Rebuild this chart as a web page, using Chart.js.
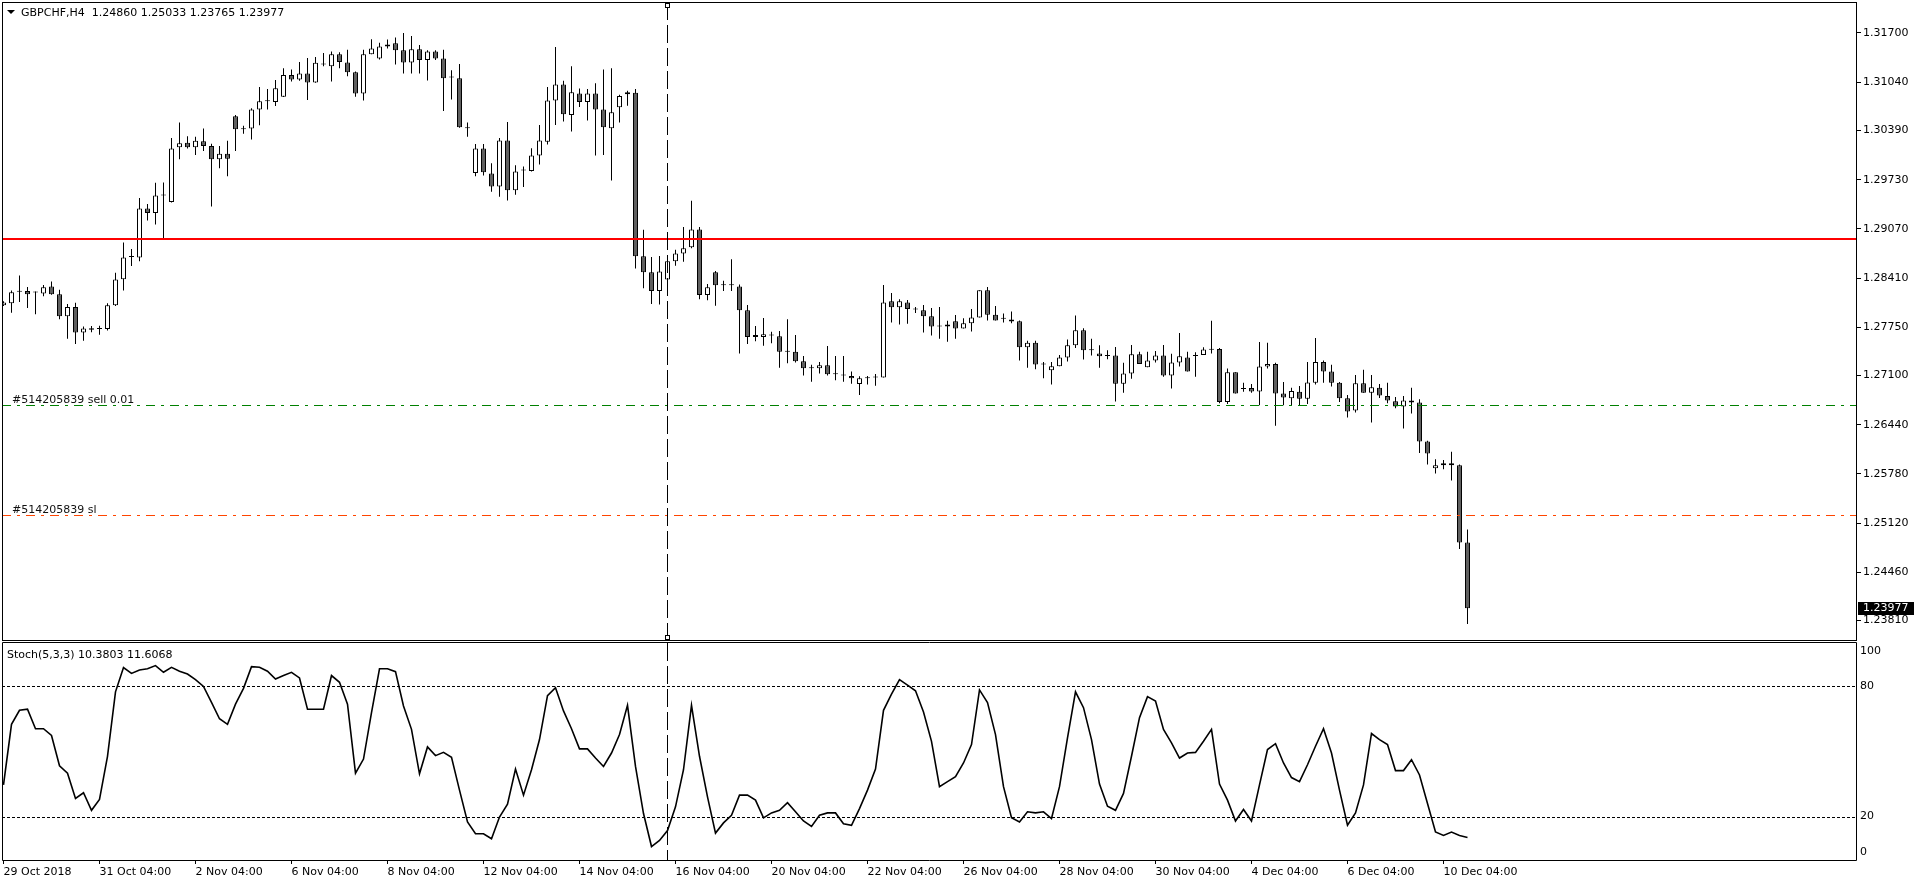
<!DOCTYPE html>
<html>
<head>
<meta charset="utf-8">
<script src="https://cdn.jsdelivr.net/npm/chart.js@4/dist/chart.umd.min.js"></script>
<style>
html, body { margin: 0; padding: 0; background: #fff; overflow: hidden; }
#main { position: absolute; left: 0; top: 0; }
#stoch { position: absolute; left: 0; top: 642px; }
</style>
</head>
<body>
<canvas id="main" width="1916" height="642"></canvas>
<canvas id="stoch" width="1916" height="242"></canvas>
<script>
// GBPCHF H4, one entry per bar (bar 0 = 29 Oct 2018)
const opens = [1.28044,1.28071,1.28225,1.28236,1.28214,1.28203,1.28296,1.28192,1.27896,1.28022,
1.27677,1.27715,1.27726,1.27726,1.28044,1.28395,1.28691,1.28685,1.29343,1.29282,
1.29518,1.29430,1.30165,1.30225,1.30165,1.30247,1.30181,1.30006,1.30077,1.30581,
1.30406,1.30417,1.30674,1.30784,1.30773,1.30844,1.31135,1.31074,1.31157,1.31036,
1.31277,1.31255,1.31414,1.31305,1.31173,1.30888,1.31414,1.31359,1.31518,1.31562,
1.31469,1.31305,1.31480,1.31337,1.31453,1.31359,1.31102,1.31091,1.30422,1.29820,
1.30148,1.29814,1.29639,1.30258,1.29589,1.29852,1.29847,1.30055,1.30241,1.30795,
1.31009,1.30598,1.30888,1.30773,1.30888,1.30674,1.30422,1.30702,1.30877,1.30899,
1.28702,1.28488,1.28236,1.28389,1.28636,1.28740,1.28822,1.29063,1.28181,1.28488,
1.28313,1.28313,1.28296,1.27978,1.27617,1.27617,1.27638,1.27628,1.27419,1.27419,
1.27293,1.27200,1.27200,1.27238,1.27118,1.27101,1.27096,1.26986,1.27063,1.27074,
1.27074,1.28099,1.28017,1.28082,1.27989,1.27978,1.27896,1.27759,1.27759,1.27830,
1.27732,1.27803,1.27880,1.28247,1.27918,1.27863,1.27852,1.27830,1.27480,1.27540,
1.27249,1.27173,1.27227,1.27343,1.27507,1.27710,1.27441,1.27397,1.27364,1.27370,
1.26992,1.27129,1.27386,1.27211,1.27304,1.27370,1.27101,1.27277,1.27343,1.27364,
1.27375,1.27447,1.27458,1.26745,1.27145,1.26921,1.26932,1.26888,1.27222,1.27255,
1.26860,1.26795,1.26882,1.26789,1.27003,1.27282,1.27156,1.27003,1.26795,1.26630,
1.26997,1.26871,1.26937,1.26827,1.26756,1.26685,1.26767,1.26740,1.26214,1.25857,
1.25896,1.25923,1.25896,1.24860];
const highs = [1.28099,1.28241,1.28444,1.28291,1.28230,1.28318,1.28362,1.28252,1.28060,1.28077,
1.27759,1.27765,1.27770,1.28071,1.28482,1.28888,1.28800,1.29485,1.29403,1.29688,
1.29693,1.30291,1.30499,1.30313,1.30307,1.30417,1.30214,1.30181,1.30252,1.30598,
1.30455,1.30691,1.30976,1.30948,1.31069,1.31228,1.31211,1.31310,1.31365,1.31376,
1.31431,1.31453,1.31442,1.31474,1.31184,1.31474,1.31617,1.31568,1.31611,1.31639,
1.31699,1.31661,1.31540,1.31469,1.31469,1.31474,1.31200,1.31283,1.30499,1.30209,
1.30209,1.29951,1.30291,1.30505,1.29924,1.29907,1.30154,1.30466,1.30976,1.31513,
1.31058,1.31255,1.30954,1.30948,1.31025,1.31211,1.31228,1.30872,1.30926,1.30948,
1.29058,1.28691,1.28707,1.28691,1.28789,1.29096,1.29447,1.29096,1.28329,1.28504,
1.28373,1.28663,1.28323,1.28049,1.27765,1.27874,1.27688,1.27699,1.27858,1.27644,
1.27364,1.27244,1.27282,1.27496,1.27364,1.27364,1.27156,1.27090,1.27096,1.27123,
1.28318,1.28208,1.28126,1.28115,1.28022,1.28049,1.28006,1.28022,1.27836,1.27912,
1.27869,1.27995,1.28247,1.28291,1.28033,1.27934,1.27962,1.27841,1.27567,1.27567,
1.27282,1.27282,1.27375,1.27584,1.27907,1.27737,1.27595,1.27507,1.27441,1.27485,
1.27271,1.27512,1.27419,1.27419,1.27430,1.27512,1.27392,1.27671,1.27419,1.27414,
1.27480,1.27836,1.27469,1.27195,1.27145,1.27003,1.26986,1.27551,1.27540,1.27271,
1.27014,1.26937,1.26959,1.27282,1.27606,1.27304,1.27244,1.27014,1.26838,1.27107,
1.27178,1.27107,1.26986,1.27003,1.26811,1.26827,1.26937,1.26784,1.26225,1.25978,
1.25967,1.26077,1.25907,1.25033];
const lows = [1.28033,1.27945,1.28088,1.28006,1.27923,1.28165,1.28186,1.27858,1.27595,1.27523,
1.27567,1.27682,1.27649,1.27704,1.28033,1.28241,1.28570,1.28636,1.29184,1.29129,
1.28937,1.29425,1.30006,1.30148,1.30061,1.30115,1.29370,1.29885,1.29776,1.30115,
1.30346,1.30269,1.30461,1.30674,1.30718,1.30839,1.31047,1.31058,1.30800,1.31031,
1.31255,1.31047,1.31228,1.31118,1.30844,1.30795,1.31414,1.31343,1.31491,1.31277,
1.31157,1.31157,1.31157,1.31063,1.31337,1.30652,1.30806,1.30428,1.30307,1.29776,
1.29787,1.29567,1.29502,1.29452,1.29529,1.29633,1.29841,1.29935,1.30203,1.30466,
1.30510,1.30378,1.30707,1.30526,1.30055,1.30061,1.29721,1.30499,1.30724,1.28537,
1.28274,1.28060,1.28055,1.28280,1.28576,1.28630,1.28811,1.28126,1.28110,1.28039,
1.28236,1.28236,1.27397,1.27523,1.27562,1.27501,1.27534,1.27206,1.27266,1.27277,
1.27101,1.27019,1.27129,1.27101,1.27036,1.27019,1.26992,1.26838,1.26981,1.26964,
1.27074,1.27814,1.27786,1.27797,1.27940,1.27677,1.27638,1.27595,1.27556,1.27595,
1.27732,1.27693,1.27880,1.27841,1.27841,1.27814,1.27803,1.27304,1.27206,1.27184,
1.27063,1.26981,1.27227,1.27288,1.27469,1.27315,1.27370,1.27206,1.27321,1.26751,
1.26871,1.27058,1.27255,1.27211,1.27277,1.27085,1.26926,1.27222,1.27156,1.27085,
1.27375,1.27397,1.26729,1.26718,1.26860,1.26882,1.26871,1.26701,1.27195,1.26427,
1.26701,1.26701,1.26701,1.26718,1.26981,1.27003,1.26953,1.26745,1.26537,1.26603,
1.26871,1.26471,1.26800,1.26729,1.26663,1.26389,1.26592,1.26060,1.25907,1.25786,
1.25841,1.25693,1.24772,1.23765];
const closes = [1.28082,1.28219,1.28225,1.28192,1.28214,1.28285,1.28192,1.27896,1.28022,1.27677,
1.27732,1.27737,1.27726,1.28044,1.28389,1.28685,1.28691,1.29343,1.29282,1.29518,
1.29518,1.30148,1.30220,1.30165,1.30252,1.30181,1.30006,1.30077,1.30011,1.30406,
1.30406,1.30674,1.30784,1.30784,1.30959,1.31135,1.31074,1.31157,1.31036,1.31299,
1.31277,1.31414,1.31310,1.31173,1.30888,1.31414,1.31491,1.31518,1.31546,1.31469,
1.31305,1.31480,1.31337,1.31453,1.31359,1.31091,1.31102,1.30433,1.30422,1.30148,
1.29830,1.29639,1.30258,1.29589,1.29841,1.29852,1.30055,1.30258,1.30795,1.31009,
1.30609,1.30905,1.30773,1.30888,1.30674,1.30433,1.30636,1.30855,1.30905,1.28702,
1.28488,1.28236,1.28499,1.28636,1.28740,1.28811,1.29063,1.28181,1.28285,1.28313,
1.28313,1.28313,1.27978,1.27617,1.27644,1.27655,1.27638,1.27419,1.27419,1.27293,
1.27200,1.27200,1.27238,1.27118,1.27118,1.27101,1.27063,1.27063,1.27063,1.27074,
1.28082,1.28017,1.28099,1.27995,1.27989,1.27896,1.27759,1.27759,1.27786,1.27732,
1.27803,1.27880,1.28247,1.27918,1.27841,1.27863,1.27825,1.27480,1.27540,1.27249,
1.27249,1.27227,1.27343,1.27507,1.27710,1.27441,1.27441,1.27359,1.27364,1.26992,
1.27129,1.27386,1.27255,1.27304,1.27370,1.27101,1.27277,1.27359,1.27156,1.27364,
1.27452,1.27447,1.26745,1.27145,1.26860,1.26921,1.26888,1.27222,1.27255,1.26860,
1.26805,1.26893,1.26789,1.27008,1.27282,1.27156,1.27003,1.26795,1.26619,1.26997,
1.26871,1.26943,1.26833,1.26767,1.26685,1.26767,1.26740,1.26214,1.26055,1.25896,
1.25923,1.25896,1.24860,1.23977];

// Stochastic(5,3,3) main line
const stochMain = [34.6,62.5,69.0,69.5,60.5,60.5,57.4,43.4,40.0,28.4,
31.0,22.9,27.9,47.8,77.5,88.7,86.0,87.6,88.1,89.6,
86.5,88.8,87.0,85.7,83.1,80.0,72.6,65.1,62.5,71.8,
79.1,89.1,88.8,87.0,83.4,85.0,86.5,83.9,69.5,69.5,
69.5,85.0,81.9,71.8,40.0,46.5,67.9,88.1,88.1,86.8,
71.0,60.2,39.7,52.1,48.1,49.6,47.3,32.2,17.5,12.1,
12.1,9.8,19.8,25.7,41.9,29.9,41.6,55.5,75.7,79.4,
68.7,60.5,51.2,51.2,47.0,43.1,49.3,57.8,71.3,43.1,
21.4,6.2,9.0,13.6,24.5,41.6,71.3,47.8,29.1,12.4,
17.1,20.6,29.9,29.9,27.6,19.4,21.7,22.9,26.4,22.2,
18.0,15.5,20.6,21.7,21.7,16.7,16.0,23.7,32.2,41.9,
69.0,76.4,83.1,80.6,78.0,68.2,54.7,33.8,36.1,38.4,
44.7,53.2,78.4,72.6,57.8,33.8,19.5,17.5,22.2,21.7,
22.2,19.1,33.8,56.3,77.5,70.2,55.5,35.0,24.8,22.9,
30.7,47.8,65.6,75.3,73.3,60.2,54.0,47.0,49.3,49.6,
54.7,60.2,35.0,27.6,18.0,23.3,18.0,34.6,50.9,53.6,
44.7,38.0,36.1,43.9,52.4,60.5,49.3,32.2,16.0,21.7,
34.6,58.3,55.5,53.2,41.2,41.2,46.2,39.2,26.0,12.9,
11.3,12.9,11.3,10.4];

const priceTicks = [1.31700,1.31040,1.30390,1.29730,1.29070,1.28410,1.27750,1.27100,1.26440,1.25780,1.25120,1.24460,1.23810];
const stochLevels = [80, 20];
const stochTicks = [100, 80, 20, 0];
const timeBars = [0,12,24,36,48,60,72,84,96,108,120,132,144,156,168,180];
const timeLabels = ['29 Oct 2018','31 Oct 04:00','2 Nov 04:00','6 Nov 04:00','8 Nov 04:00','12 Nov 04:00',
  '14 Nov 04:00','16 Nov 04:00','20 Nov 04:00','22 Nov 04:00','26 Nov 04:00','28 Nov 04:00',
  '30 Nov 04:00','4 Dec 04:00','6 Dec 04:00','10 Dec 04:00'];

const redLevel = 1.28940;
const sellLevel = 1.26701;
const slLevel = 1.25222;
const vlineBar = 83;
const lastPrice = 1.23977;
const titleText = 'GBPCHF,H4  1.24860 1.25033 1.23765 1.23977';
const stochText = 'Stoch(5,3,3) 10.3803 11.6068';
const sellText = '#514205839 sell 0.01';
const slText = '#514205839 sl';

const X_MIN = -0.1875, X_MAX = 231.6875;
const PRICE_MIN = 1.23550, PRICE_MAX = 1.32116;
const FONT = '11px "DejaVu Sans"';

Chart.defaults.font.family = 'DejaVu Sans';
Chart.defaults.font.size = 11;
Chart.defaults.color = '#000';

function hline(ctx, a, y, color, dash){
  ctx.save();
  ctx.strokeStyle = color;
  ctx.lineWidth = 1;
  ctx.setLineDash(dash);
  ctx.beginPath();
  ctx.moveTo(a.left, y);
  ctx.lineTo(a.right, y);
  ctx.stroke();
  ctx.restore();
}

function vdash(ctx, x, y1, y2){
  ctx.save();
  ctx.strokeStyle = '#000';
  ctx.lineWidth = 1;
  ctx.setLineDash([18, 5]);
  ctx.beginPath();
  ctx.moveTo(x, y1);
  ctx.lineTo(x, y2);
  ctx.stroke();
  ctx.restore();
}

function frame(ctx, a){
  ctx.save();
  ctx.strokeStyle = '#000';
  ctx.lineWidth = 1;
  ctx.strokeRect(a.left + 0.5, a.top + 0.5, a.right - a.left - 1, a.bottom - a.top);
  ctx.restore();
}

const mainOverlay = {
  id: 'mainOverlay',
  afterDraw(chart){
    const ctx = chart.ctx, a = chart.chartArea;
    const x = chart.scales.x, y = chart.scales.y;
    ctx.save();
    // red horizontal level
    const ry = Math.round(y.getPixelForValue(redLevel));
    ctx.fillStyle = '#ff0000';
    ctx.fillRect(a.left, ry - 1, a.right - a.left, 2);
    // order lines
    const sy = Math.round(y.getPixelForValue(sellLevel)) + 0.5;
    const ly = Math.round(y.getPixelForValue(slLevel)) + 0.5;
    hline(ctx, a, sy, '#008000', [9, 6, 3, 6]);
    hline(ctx, a, ly, '#ff4500', [9, 6, 3, 6]);
    ctx.font = FONT;
    ctx.fillStyle = '#111';
    ctx.textBaseline = 'alphabetic';
    ctx.textAlign = 'left';
    ctx.fillText(sellText, 12, sy - 3);
    ctx.fillText(slText, 12, ly - 3);
    // vertical line with handles
    const vx = Math.floor(x.getPixelForValue(vlineBar)) + 0.5;
    vdash(ctx, vx, a.top, a.bottom);
    ctx.fillStyle = '#fff';
    ctx.strokeStyle = '#000';
    ctx.lineWidth = 1;
    [a.top + 1.5, a.bottom - 4.5].forEach(function(t){
      ctx.fillRect(vx - 2, t, 4, 4);
      ctx.strokeRect(vx - 2, t, 4, 4);
    });
    frame(ctx, a);
    // title
    ctx.fillStyle = '#000';
    ctx.beginPath();
    ctx.moveTo(7, 10); ctx.lineTo(15, 10); ctx.lineTo(11, 14); ctx.closePath();
    ctx.fill();
    ctx.fillText(titleText, 21, 16);
    // last price tag
    const py = Math.round(y.getPixelForValue(lastPrice));
    ctx.fillStyle = '#000';
    ctx.fillRect(a.right + 1, py - 6, 56, 13);
    ctx.fillStyle = '#fff';
    ctx.textBaseline = 'middle';
    ctx.fillText(lastPrice.toFixed(5), a.right + 6, py + 0.5);
    ctx.restore();
  }
};

const stochOverlay = {
  id: 'stochOverlay',
  afterDraw(chart){
    const ctx = chart.ctx, a = chart.chartArea;
    const x = chart.scales.x, y = chart.scales.y;
    ctx.save();
    stochLevels.forEach(function(v){
      hline(ctx, a, Math.round(y.getPixelForValue(v)) + 0.5, '#000', [3, 2]);
    });
    const vx = Math.floor(x.getPixelForValue(vlineBar)) + 0.5;
    vdash(ctx, vx, a.top, a.bottom);
    ctx.strokeStyle = '#000';
    ctx.beginPath();
    ctx.moveTo(a.left + 0.5, a.top - 0.5); ctx.lineTo(a.right - 0.5, a.top - 0.5);
    ctx.lineTo(a.right - 0.5, a.bottom + 0.5); ctx.lineTo(a.left + 0.5, a.bottom + 0.5);
    ctx.closePath();
    ctx.stroke();
    ctx.font = FONT;
    ctx.fillStyle = '#000';
    ctx.textAlign = 'left';
    ctx.textBaseline = 'middle';
    stochTicks.forEach(function(v){
      let ty = y.getPixelForValue(v);
      ty = Math.min(Math.max(ty, a.top + 8), a.bottom - 8);
      ctx.fillText(String(v), a.right + 3, ty);
    });
    ctx.textBaseline = 'alphabetic';
    ctx.fillText(stochText, 7, 16);
    ctx.restore();
  }
};

const bars = opens.map((o, i) => i);

new Chart(document.getElementById('main'), {
  type: 'bar',
  data: {
    datasets: [{
      data: bars.map(i => ({x: i, y: [opens[i], closes[i]]})),
      backgroundColor: bars.map(i => closes[i] >= opens[i] ? '#ffffff' : '#606060'),
      borderColor: '#000',
      borderWidth: 1,
      borderSkipped: false,
      barThickness: 5,
      minBarLength: 1,
      inflateAmount: 0,
      grouped: false,
      order: 0
    }, {
      data: bars.map(i => ({x: i, y: [lows[i], highs[i]]})),
      backgroundColor: '#000',
      borderWidth: 0,
      barThickness: 1,
      inflateAmount: 0,
      grouped: false,
      order: 1
    }]
  },
  options: {
    responsive: false,
    animation: false,
    devicePixelRatio: 1,
    events: [],
    layout: { padding: { left: 2, top: 2, right: 0, bottom: 2 } },
    plugins: { legend: { display: false }, tooltip: { enabled: false } },
    scales: {
      x: { type: 'linear', min: X_MIN, max: X_MAX, offset: false, display: false },
      y: {
        position: 'right',
        min: PRICE_MIN,
        max: PRICE_MAX,
        afterFit: function(s){ s.width = 59; s.paddingTop = 0; s.paddingBottom = 0; },
        afterBuildTicks: function(s){ s.ticks = priceTicks.map(v => ({value: v})); },
        ticks: { padding: 2, color: '#000', callback: v => v.toFixed(5) },
        grid: { drawOnChartArea: false, drawTicks: true, tickLength: 4, color: '#000' },
        border: { display: false }
      }
    }
  },
  plugins: [mainOverlay]
});

new Chart(document.getElementById('stoch'), {
  type: 'line',
  data: {
    datasets: [{
      data: stochMain.map((v, i) => ({x: i, y: v})),
      borderColor: '#000',
      borderWidth: 1.6,
      pointRadius: 0,
      tension: 0,
      fill: false
    }]
  },
  options: {
    responsive: false,
    animation: false,
    devicePixelRatio: 1,
    events: [],
    layout: { padding: { left: 2, top: 1, right: 0, bottom: 0 } },
    plugins: { legend: { display: false }, tooltip: { enabled: false } },
    scales: {
      x: {
        type: 'linear', min: X_MIN, max: X_MAX, offset: false,
        afterFit: function(s){ s.height = 24; s.paddingLeft = 0; s.paddingRight = 0; },
        afterBuildTicks: function(s){ s.ticks = timeBars.map(v => ({value: v})); },
        ticks: {
          align: 'start', autoSkip: false, maxRotation: 0, minRotation: 0, padding: 2, color: '#000',
          callback: function(v){ const k = timeBars.indexOf(v); return k >= 0 ? timeLabels[k] : ''; }
        },
        grid: { drawOnChartArea: false, drawTicks: true, tickLength: 4, color: '#000' },
        border: { display: false }
      },
      y: {
        position: 'right', min: 0, max: 100,
        afterFit: function(s){ s.width = 59; s.paddingTop = 0; s.paddingBottom = 0; },
        ticks: { display: false },
        grid: { display: false },
        border: { display: false }
      }
    }
  },
  plugins: [stochOverlay]
});
</script>
</body>
</html>
